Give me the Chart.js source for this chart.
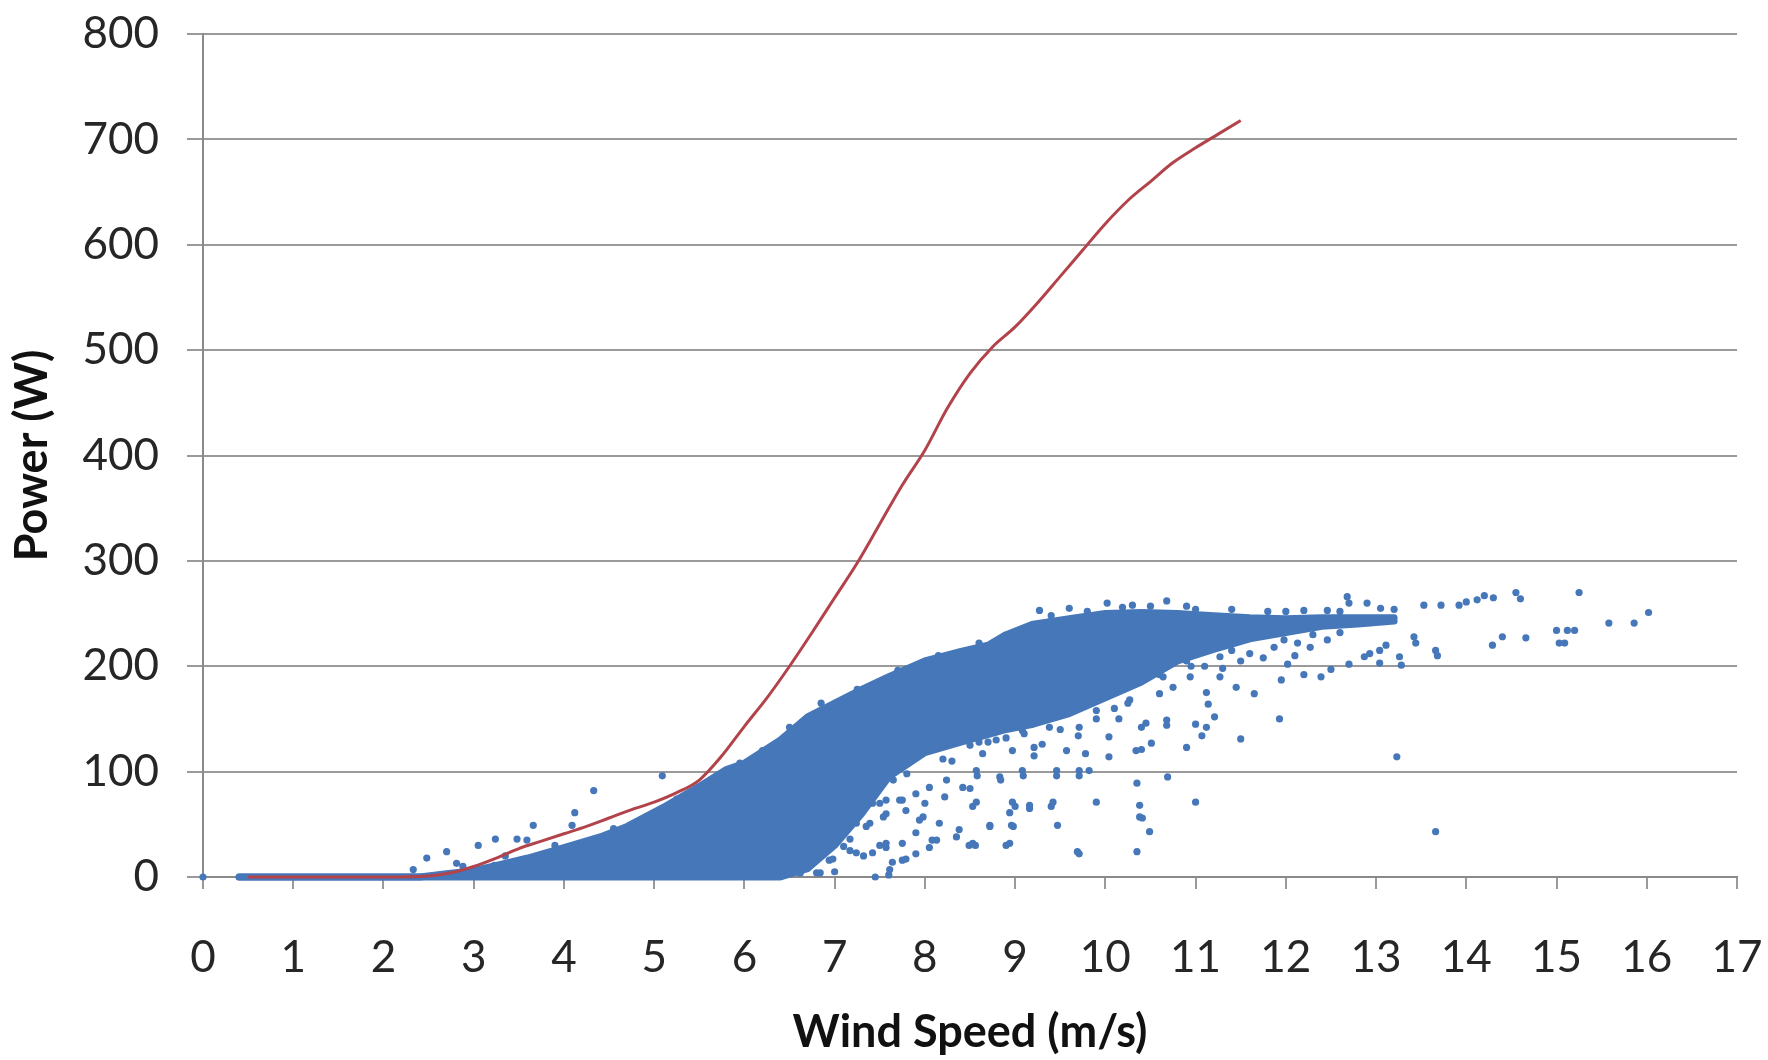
<!DOCTYPE html>
<html>
<head>
<meta charset="utf-8">
<script src="https://cdn.jsdelivr.net/npm/chart.js@4/dist/chart.umd.min.js"></script>
<style>
  html, body { margin: 0; padding: 0; background: #ffffff; }
  #wrap { width: 1768px; height: 1060px; position: relative; }
</style>
</head>
<body>
<div id="wrap"><canvas id="c"></canvas></div>
<script>
// Power curve (red line)
const curveSpeed = [0.5,1,1.5,2,2.5,2.75,3,3.25,3.5,3.75,4,4.25,4.5,4.75,5,5.25,5.5,5.75,6,6.25,6.5,6.75,7,7.25,7.5,7.75,8,8.25,8.5,8.75,9,9.25,9.5,9.75,10,10.25,10.5,10.75,11,11.25,11.5];
const curvePower = [0,0,0,0,1,4,10,18,27,34,41,48,56,64,71,80,92,115,143,170,200,232,265,298,335,372,405,445,478,503,522,545,570,595,620,642,660,678,692,705,718];

// Dense core of the measured cloud (upper / lower envelope)
const coreSpeed = [0.4,2.4,2.7,3.0,3.3,3.6,4.0,4.4,4.7,5.1,5.5,5.8,6.0,6.4,6.7,7.0,7.3,7.6,8.0,8.4,8.7,8.9,9.2,9.6,10.0,10.4,10.8,11.2,11.6,12.0,12.4,12.8,13.2];
const coreHigh  = [0,0,3,6,12,18,28,38,48,66,86,102,108,130,152,165,178,190,205,214,220,230,240,245,250,251,250,248,246,245,246,246,246];
const coreLow   = [0,0,0,0,0,0,0,0,0,0,0,0,0,0,8,30,60,95,118,128,135,140,145,155,170,185,205,216,226,232,238,240,243];

// Sparse measured points
const obsSpeed = [
 0,2.33,2.48,2.70,2.81,2.88,3.05,3.23,3.24,3.48,3.59,3.66,4.09,4.12,4.33,5.09,
 3.35,3.9,4.55,5.25,5.95,6.2,6.5,6.85,7.25,7.7,8.15,8.6,9.4,9.8,
 6.15,6.23,6.37,6.47,6.62,6.69,6.73,6.8,6.94,6.94,7.05,7.09,7.17,7.24,7.24,7.32,7.39,7.39,7.42,7.5,7.54,7.57,7.57,7.61,7.65,7.75,7.75,7.9,7.9,7.9,7.98,8.05,8.05,8.13,8.24,8.42,7.6,7.45,7.0,
 8.57,8.64,8.79,8.83,8.97,9.08,9.08,9.21,9.21,9.38,9.46,9.52,9.57,9.71,9.71,9.78,9.82,9.9,10.04,10.04,10.15,10.34,10.35,10.4,10.4,10.45,10.51,10.6,10.64,10.68,10.68,10.69,10.75,10.9,10.94,11.0,11.0,11.07,11.12,11.12,11.14,11.21,11.27,11.27,11.45,11.5,11.65,11.93,11.95,10.27,10.3,8.3,8.5,8.9,9.3,9.0,
 8.38,8.49,8.56,8.57,8.72,8.9,8.94,8.96,8.97,9.16,9.42,9.47,9.69,9.9,10.35,10.38,10.38,10.41,10.49,
 9.27,10.02,10.19,10.68,10.5,11.0,11.8,12.2,12.46,12.68,12.7,12.9,13.05,13.2,13.53,13.72,13.92,14.0,14.12,14.2,14.3,14.55,14.6,15.25,
 11.87,11.98,12.02,12.13,12.2,12.27,12.39,12.46,12.5,12.7,12.87,12.93,13.04,13.04,13.11,13.26,13.28,13.42,13.44,13.66,13.68,14.29,14.4,14.66,15.0,15.03,15.09,15.12,15.2,15.58,15.86,16.02,
 13.23,13.66,
 10.9,11.1,11.3,11.5,11.6,11.75,11.4,12.3,12.6,12.1,
 9.6,10.3,10.9,11.4,12.0,12.6,
 7.4,7.8,8.2,8.6,9.1,9.5,9.9,10.2,10.6,10.95,
 7.24,7.42,7.57,7.75,7.94,8.08,8.16,8.35,8.53,8.72,8.94,8.98,9.16,9.71,8.53,9.0,9.4,8.5,8.84,8.58,9.09,9.46,9.71,
 7.64,7.79,7.1,6.98,6.84,6.61,6.43,6.21,6.61,7.17,7.35,7.57,7.79,8.0,8.22,7.72,7.5,7.28,7.06,6.88,6.73,6.54,
 8.7,8.9,9.1,9.3,9.5,9.7,9.9,10.1,10.25
];
const obsPower = [
 0,7,18,24,13,10,30,11,36,36,35,49,49,61,82,96,
 20,30,46,74,108,120,142,165,178,196,210,222,248,252,
 4,19,1,13,4,16,28,4,16,42,57,76,25,51,70,20,51,85,70,30,57,28,73,7,92,16,73,22,42,79,57,28,85,35,92,85,2,0,5,
 101,117,130,95,120,101,139,123,115,142,101,155,120,101,142,117,101,158,114,133,150,120,89,142,121,146,127,174,190,149,144,95,180,123,190,145,71,134,142,175,164,152,190,209,180,131,174,150,187,168,183,110,125,150,165,160,
 45,30,30,71,49,30,61,49,71,68,71,49,24,71,24,68,57,56,43,
 253,260,256,262,257,254,252,253,253,266,260,260,255,254,258,258,258,261,263,267,265,270,264,270,
 218,225,202,222,192,218,190,225,197,202,209,212,215,203,220,209,201,228,222,215,210,220,228,227,234,222,222,234,234,241,241,251,
 114,43,
 205,200,198,205,212,208,215,230,232,210,
 255,258,257,254,252,252,
 72,98,112,128,145,158,168,178,192,200,
 23,23,32,32,54,35,51,38,32,48,32,48,65,22,67,67,67,84,92,96,96,96,96,
 14,17,29,17,4,23,14,4,4,36,48,60,63,70,76,73,70,60,51,42,29,42,
 128,132,136,126,140,134,150,160,165
];

const xTicks = [0,1,2,3,4,5,6,7,8,9,10,11,12,13,14,15,16,17];
const yTicks = [0,100,200,300,400,500,600,700,800];

const BLUE = '#4677b9';
const RED = '#b3434a';
const GRID = '#9a9a9a';

const pts = (xs, ys) => xs.map((x, i) => ({ x: x, y: ys[i] }));

new Chart(document.getElementById('c'), {
  type: 'scatter',
  data: {
    datasets: [
      {
        label: 'Power curve',
        type: 'line',
        data: pts(curveSpeed, curvePower),
        borderColor: RED,
        borderWidth: 3,
        pointRadius: 0,
        fill: false,
        cubicInterpolationMode: 'monotone',
        order: 0,
        clip: 10
      },
      {
        label: 'Measured',
        data: pts(obsSpeed, obsPower),
        backgroundColor: BLUE,
        borderWidth: 0,
        pointRadius: 3.6,
        pointStyle: 'circle',
        order: 1,
        clip: 10
      },
      {
        label: 'core high',
        type: 'line',
        data: pts(coreSpeed, coreHigh),
        borderColor: BLUE,
        backgroundColor: BLUE,
        borderWidth: 7,
        borderJoinStyle: 'round',
        borderCapStyle: 'round',
        pointRadius: 0,
        fill: '+1',
        tension: 0,
        order: 2,
        clip: 10
      },
      {
        label: 'core low',
        type: 'line',
        data: pts(coreSpeed, coreLow),
        borderColor: BLUE,
        backgroundColor: BLUE,
        borderWidth: 7,
        borderJoinStyle: 'round',
        borderCapStyle: 'round',
        pointRadius: 0,
        fill: false,
        tension: 0,
        order: 2,
        clip: 10
      }
    ]
  },
  options: {
    responsive: true,
    maintainAspectRatio: false,
    devicePixelRatio: 1,
    animation: false,
    layout: { padding: { top: 34, right: 31, left: 0, bottom: 0 } },
    plugins: { legend: { display: false }, tooltip: { enabled: false } },
    scales: {
      x: {
        type: 'linear',
        min: 0, max: 17,
        afterBuildTicks: (s) => { s.ticks = xTicks.map(v => ({ value: v })); },
        afterFit: (s) => { s.height = 183; s.paddingLeft = 0; s.paddingRight = 0; },
        grid: { drawOnChartArea: false, drawTicks: true, tickLength: 12, color: GRID, lineWidth: 2 },
        border: { display: true, color: '#8a8a8a', width: 2 },
        ticks: { color: '#262626', font: { family: 'Lato', size: 44 }, padding: 42, maxRotation: 0, autoSkip: false },
        title: { display: true, text: 'Wind Speed (m/s)', color: '#111', font: { family: 'Lato', size: 45, weight: 'bold' }, padding: { top: 0, bottom: 1 } }
      },
      y: {
        type: 'linear',
        min: 0, max: 800,
        afterBuildTicks: (s) => { s.ticks = yTicks.map(v => ({ value: v })); },
        afterFit: (s) => { s.width = 203; s.paddingTop = 0; s.paddingBottom = 0; },
        grid: { drawOnChartArea: true, drawTicks: true, tickLength: 16, color: GRID, lineWidth: 2 },
        border: { display: true, color: '#8a8a8a', width: 2 },
        ticks: { color: '#262626', font: { family: 'Lato', size: 44 }, padding: 28, autoSkip: false },
        title: { display: true, text: 'Power (W)', color: '#111', font: { family: 'Lato', size: 45, weight: 'bold' }, padding: { top: 5, bottom: 0 } }
      }
    }
  }
});
</script>
</body>
</html>
